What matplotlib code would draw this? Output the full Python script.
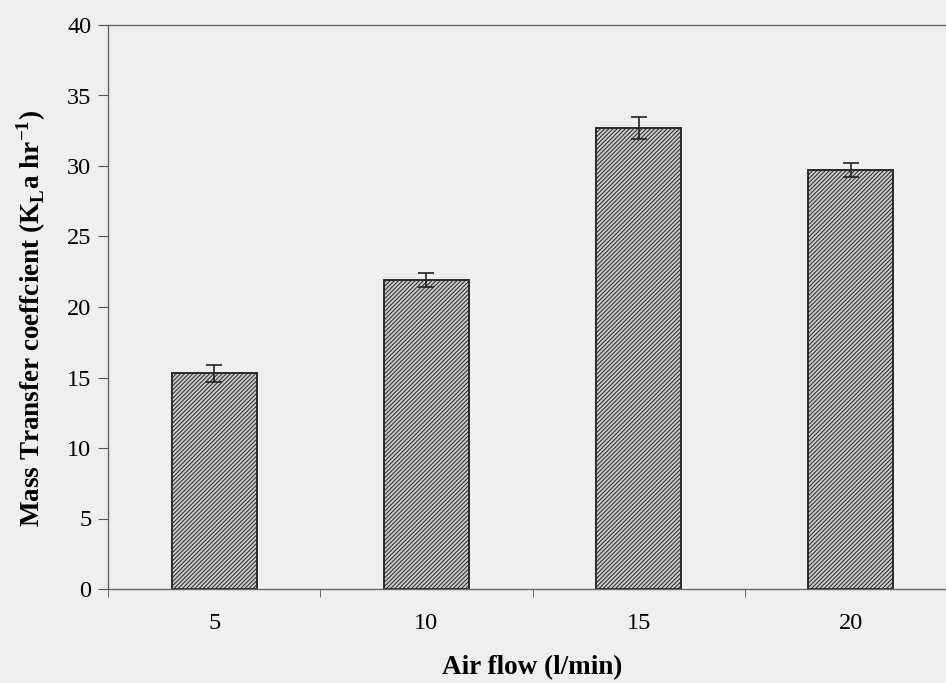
import matplotlib
matplotlib.use("Agg")
import matplotlib.pyplot as plt
import numpy as np

categories = ["5", "10", "15", "20"]
values = [15.3, 21.9, 32.7, 29.7]
errors = [0.6, 0.5, 0.8, 0.5]
yticks = [0, 5, 10, 15, 20, 25, 30, 35, 40]

plt.rcParams['font.family'] = ['Liberation Serif', 'DejaVu Serif']
plt.rcParams['hatch.color'] = '#5a5a5a'
plt.rcParams['hatch.linewidth'] = 0.7

fig = plt.figure(figsize=(9.46, 6.83), dpi=100, facecolor='#efefef')
ax = fig.add_axes([108/946, 1 - 589/683, (957-108)/946, (589-25)/683])
ax.set_facecolor('#efefef')

x = np.arange(len(categories))
ax.bar(x, values, width=0.4, color='#c8c8c8', edgecolor='#2a2a2a', linewidth=1.4,
       hatch='////////', zorder=2)
ax.errorbar(x, values, yerr=errors, fmt='none', ecolor='#222222', elinewidth=1.2,
            capsize=5.5, capthick=1.2, zorder=3)

ax.set_xlim(-0.5, len(categories) - 0.5)
ax.set_ylim(0, 40)
ax.set_yticks(yticks)
ax.set_xticks(x)
ax.set_xticklabels(categories, fontsize=17.5)
ax.set_xticks(np.arange(len(categories) + 1) - 0.5, minor=True)
ax.tick_params(axis='x', which='major', length=0, pad=17)
ax.tick_params(axis='x', which='minor', length=6, direction='out', color='#555555')
ax.tick_params(axis='y', labelsize=17.5, length=7, direction='out', color='#555555', pad=5)

for s in ['left', 'bottom', 'top', 'right']:
    ax.spines[s].set_color('#666666')
    ax.spines[s].set_linewidth(1.0)

ax.set_ylabel(r"Mass Transfer coeffcient (K$_{\mathregular{L}}$a hr$^{\mathregular{-1}}$)",
              fontsize=19.5, fontweight='bold')
ax.yaxis.set_label_coords(-0.071, 0.48)
ax.set_xlabel("Air flow (l/min)", fontsize=19.5, fontweight='bold')
ax.xaxis.set_label_coords(0.5, -0.118)

fig.savefig("out.png", dpi=100, facecolor=fig.get_facecolor())
